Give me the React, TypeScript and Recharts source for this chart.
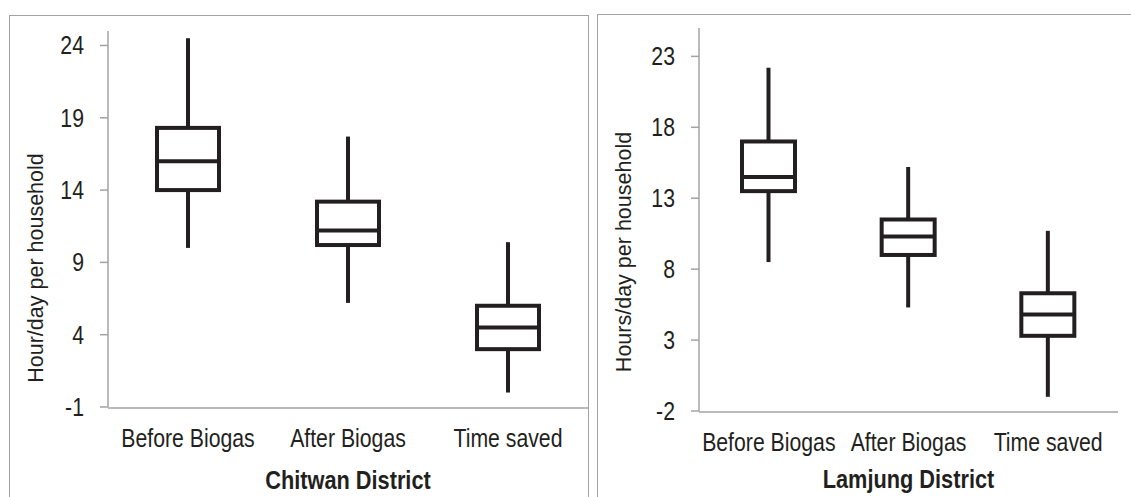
import React from 'react';
import { BarChart, Bar, XAxis, YAxis, Label } from 'recharts';

const categories = ['Before Biogas', 'After Biogas', 'Time saved'];

// Chitwan District box stats (hours/day)
const chitwanMin = [10.0, 6.2, 0.0];
const chitwanQ1 = [14.0, 10.2, 3.0];
const chitwanMedian = [16.0, 11.2, 4.5];
const chitwanQ3 = [18.3, 13.2, 6.0];
const chitwanMax = [24.5, 17.7, 10.4];

// Lamjung District box stats (hours/day)
const lamjungMin = [8.5, 5.3, -1.0];
const lamjungQ1 = [13.5, 9.0, 3.3];
const lamjungMedian = [14.5, 10.3, 4.8];
const lamjungQ3 = [17.0, 11.5, 6.3];
const lamjungMax = [22.2, 15.2, 10.7];

const chitwanTicks = [-1, 4, 9, 14, 19, 24];
const lamjungTicks = [-2, 3, 8, 13, 18, 23];
const edgeTicks = [0, 1, 2, 3];

const INK = '#231f20';
const AXIS = '#a3a3a3';
const FONT = "'Liberation Sans', Arial, sans-serif";
const SQUEEZE = 0.85; // reference type is a condensed sans

const buildRows = (mins: number[], q1s: number[], meds: number[], q3s: number[], maxs: number[]) =>
  categories.map((name, i) => ({
    name,
    min: mins[i],
    q1: q1s[i],
    median: meds[i],
    q3: q3s[i],
    max: maxs[i],
  }));

const chitwanData = buildRows(chitwanMin, chitwanQ1, chitwanMedian, chitwanQ3, chitwanMax);
const lamjungData = buildRows(lamjungMin, lamjungQ1, lamjungMedian, lamjungQ3, lamjungMax);

// bar spans [min, max]; box, median and whiskers are placed on the same scale
const BoxShape = (props: any) => {
  const { x, y, width, height, payload } = props;
  const { min, q1, median, q3, max } = payload;
  const top = Math.min(y, y + height);
  const h = Math.abs(height);
  const k = h / (max - min);
  const toY = (v: number) => top + (max - v) * k;
  const cx = x + width / 2;
  return (
    <g>
      <line x1={cx} x2={cx} y1={toY(max)} y2={toY(q3)} stroke={INK} strokeWidth={4} />
      <line x1={cx} x2={cx} y1={toY(q1)} y2={toY(min)} stroke={INK} strokeWidth={4} />
      <rect x={x} y={toY(q3)} width={width} height={toY(q1) - toY(q3)} fill="none" stroke={INK} strokeWidth={4} />
      <line x1={x} x2={x + width} y1={toY(median)} y2={toY(median)} stroke={INK} strokeWidth={4} />
    </g>
  );
};

const XTick = ({ x, y, payload }: any) => (
  <text transform={`translate(${x},${y}) scale(${SQUEEZE},1)`} textAnchor="middle" dy="0.71em" fill={INK} fontSize={25} fontFamily={FONT}>
    {payload.value}
  </text>
);

const YTick = ({ x, y, payload }: any) => (
  <text transform={`translate(${x},${y}) scale(${SQUEEZE},1)`} textAnchor="end" dy="0.355em" fill={INK} fontSize={25} fontFamily={FONT}>
    {payload.value}
  </text>
);

interface PanelProps {
  data: any[];
  ticks: number[];
  domain: [number, number];
  yLabel: string;
  title: string;
  width: number;
  marginTop: number;
  marginRight: number;
  yAxisWidth: number;
  xAxisHeight: number;
  boxWidth: number;
  yLabelX: number;
  yLabelY: number;
  titleDy: number;
}

const Panel = (p: PanelProps) => (
  <BarChart
    width={p.width}
    height={497}
    data={p.data}
    margin={{ top: p.marginTop, right: p.marginRight, left: 0, bottom: 0 }}
  >
    {/* category labels sit on the plot edge; the tick line axis follows right under it */}
    <XAxis
      dataKey="name"
      height={1}
      axisLine={false}
      tickLine={false}
      tickSize={0}
      tickMargin={22}
      interval={0}
      tick={<XTick />}
    >
      <Label
        content={({ viewBox }: any) => {
          const tx = viewBox.x + viewBox.width / 2;
          const ty = viewBox.y + p.titleDy;
          return (
            <text
              transform={`translate(${tx},${ty}) scale(0.87,1)`}
              textAnchor="middle"
              fill={INK}
              fontSize={25}
              fontWeight="bold"
              fontFamily={FONT}
            >
              {p.title}
            </text>
          );
        }}
      />
    </XAxis>
    <XAxis
      xAxisId="edges"
      type="number"
      domain={[0, 3]}
      ticks={edgeTicks}
      tick={false}
      tickSize={8}
      height={p.xAxisHeight - 1}
      stroke={AXIS}
      strokeWidth={1.5}
    />
    <YAxis
      type="number"
      domain={p.domain}
      ticks={p.ticks}
      width={p.yAxisWidth}
      tickSize={8}
      tickMargin={16}
      stroke={AXIS}
      strokeWidth={1.5}
      tick={<YTick />}
    >
      <Label
        content={() => (
          <text
            x={p.yLabelX}
            y={p.yLabelY}
            transform={`rotate(-90 ${p.yLabelX} ${p.yLabelY})`}
            textAnchor="middle"
            fill={INK}
            fontSize={21.5}
            fontFamily={FONT}
          >
            {p.yLabel}
          </text>
        )}
      />
    </YAxis>
    <Bar
      dataKey={(d: any) => [d.min, d.max]}
      barSize={p.boxWidth}
      shape={BoxShape}
      isAnimationActive={false}
    />
  </BarChart>
);

export default function App() {
  return (
    <div style={{ position: 'absolute', left: 0, top: 0, width: 1131, height: 497, background: '#fff', overflow: 'hidden' }}>
      <div style={{ position: 'absolute', left: 9, top: 15, width: 580, height: 500, border: `1.5px solid ${AXIS}`, boxSizing: 'border-box' }} />
      <div style={{ position: 'absolute', left: 597, top: 14, width: 560, height: 500, border: `1.5px solid ${AXIS}`, boxSizing: 'border-box' }} />
      <div style={{ position: 'absolute', left: 0, top: 0 }}>
        <Panel
          data={chitwanData}
          ticks={chitwanTicks}
          domain={[-1, 25]}
          yLabel="Hour/day per household"
          title="Chitwan District"
          width={588}
          marginTop={31}
          marginRight={0}
          yAxisWidth={108}
          xAxisHeight={90}
          boxWidth={62}
          yLabelX={43}
          yLabelY={268}
          titleDy={82}
        />
      </div>
      <div style={{ position: 'absolute', left: 598, top: 0 }}>
        <Panel
          data={lamjungData}
          ticks={lamjungTicks}
          domain={[-2, 25]}
          yLabel="Hours/day per household"
          title="Lamjung District"
          width={533}
          marginTop={28}
          marginRight={13}
          yAxisWidth={101}
          xAxisHeight={86}
          boxWidth={53}
          yLabelX={33}
          yLabelY={252}
          titleDy={77}
        />
      </div>
    </div>
  );
}
